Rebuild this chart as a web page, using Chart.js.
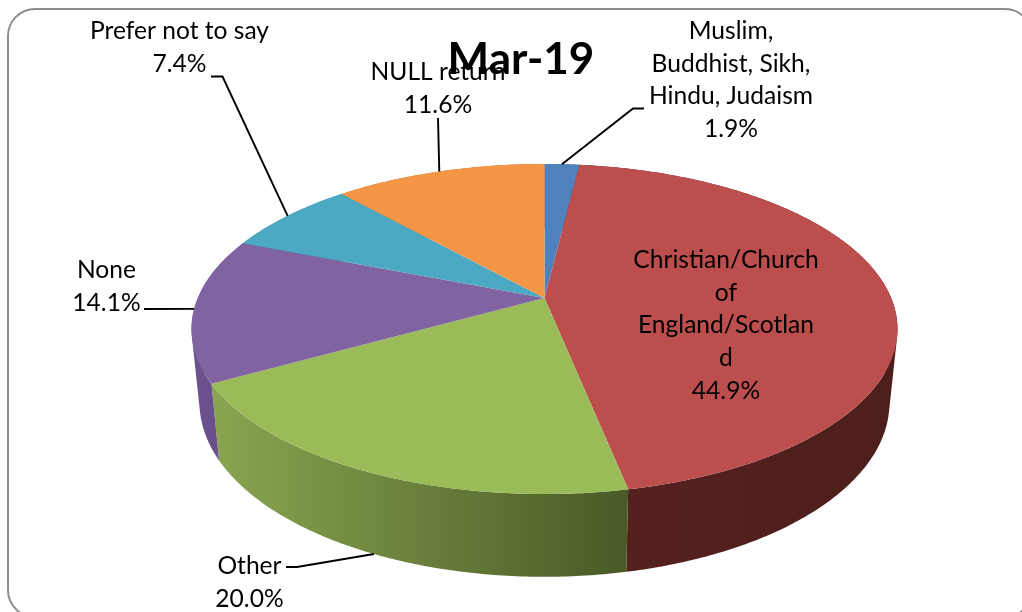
<!DOCTYPE html>
<html>
<head>
<meta charset="utf-8">
<style>
  html, body { margin: 0; padding: 0; background: #fff; }
  #wrap { width: 1022px; height: 612px; overflow: hidden; }
</style>
<script src="https://cdn.jsdelivr.net/npm/chart.js@4/dist/chart.umd.min.js"></script>
</head>
<body>
<div id="wrap"><canvas id="pie" width="1022" height="612"></canvas></div>
<script>
// Religion breakdown, March 2019
const chartTitle = 'Mar-19';
const categories = [
  'Muslim, Buddhist, Sikh, Hindu, Judaism',
  'Christian/Church of England/Scotland',
  'Other',
  'None',
  'Prefer not to say',
  'NULL return'
];
const shares = [1.9, 44.9, 20.0, 14.1, 7.4, 11.6];
const sliceColours = ['#4F81BD', '#BC4F4D', '#9BBB59', '#8064A2', '#4BA9C4', '#F49646'];

// Wrapped label text, one entry per category
const labelLines = [
  ['Muslim,', 'Buddhist, Sikh,', 'Hindu, Judaism'],
  ['Christian/Church', 'of', 'England/Scotlan', 'd'],
  ['Other'],
  ['None'],
  ['Prefer not to say'],
  ['NULL return']
];
// Label block centre x and first baseline y
const labelAnchors = [[731, 38.8], [726, 267.8], [249.5, 573.8], [106.5, 277.8], [179.5, 38.8], [438, 79.8]];
// Leader elbows: the point nearest the text; null means no leader line
const leaderElbows = [
  [[633, 108.5], [644, 108.5]],
  null,
  [[297, 567], [286, 567]],
  [[144, 309]],
  [[222.5, 76.5], [211, 76.5]],
  [[438, 118]]
];
const leaderOnWall = [false, false, true, false, false, false];

// Wall shading from left to right of each slice
const wallShades = [
  ['#3a5f8c', '#3a5f8c'],
  ['#56211f', '#4d1f1c'],
  ['#8aa550', '#495a27'],
  ['#6d5290', '#664c88'],
  ['#3a8296', '#3a8296'],
  ['#b86f33', '#b86f33']
];

// Perspective projection of a unit disc onto the page
const FOCUS = 0.188;
const topFace = { cx: 544.5, cy: 298, a: 346.7, b: 159.2 };
const baseFace = { cx: 544.5, cy: 370, a: 338.8, b: 167.9 };
const START = -Math.PI / 2;

function project(face, angle) {
  const t = angle - START;
  const u = Math.sin(t), v = -Math.cos(t);
  const w = 1 - FOCUS * v;
  return [face.cx + face.a * u / w, face.cy + face.b * v / w];
}

function frame(ctx) {
  ctx.save();
  ctx.strokeStyle = '#8e8e8e';
  ctx.lineWidth = 2;
  ctx.beginPath();
  ctx.roundRect(8, 9, 1024, 608, 27);
  ctx.stroke();
  ctx.restore();
}

function stepsFor(arc) {
  return Math.max(8, Math.ceil((arc.endAngle - arc.startAngle) * 90));
}

// Each wall is a run of quads between the top and base rims, all wound the same way
function drawWalls(ctx, arcs) {
  arcs.forEach((arc, i) => {
    const steps = stepsFor(arc);
    const span = arc.endAngle - arc.startAngle;
    let minX = Infinity, maxX = -Infinity;
    ctx.beginPath();
    for (let s = 0; s < steps; s++) {
      const a0 = arc.startAngle + span * s / steps;
      const a1 = arc.startAngle + span * (s + 1) / steps;
      let quad = [project(topFace, a0), project(topFace, a1), project(baseFace, a1), project(baseFace, a0)];
      let area = 0;
      quad.forEach((p, n) => {
        const q = quad[(n + 1) % 4];
        area += p[0] * q[1] - q[0] * p[1];
        minX = Math.min(minX, p[0]);
        maxX = Math.max(maxX, p[0]);
      });
      if (area < 0) quad = quad.reverse();
      quad.forEach((p, n) => n ? ctx.lineTo(p[0], p[1]) : ctx.moveTo(p[0], p[1]));
      ctx.closePath();
    }
    const g = ctx.createLinearGradient(minX, 0, maxX, 0);
    g.addColorStop(0, wallShades[i][0]);
    g.addColorStop(1, wallShades[i][1]);
    ctx.fillStyle = g;
    ctx.fill();
  });
}

function drawFaces(ctx, arcs) {
  arcs.forEach((arc, i) => {
    const steps = stepsFor(arc);
    ctx.beginPath();
    ctx.moveTo(topFace.cx, topFace.cy);
    for (let s = 0; s <= steps; s++) {
      const p = project(topFace, arc.startAngle + (arc.endAngle - arc.startAngle) * s / steps);
      ctx.lineTo(p[0], p[1]);
    }
    ctx.closePath();
    ctx.fillStyle = sliceColours[i];
    ctx.fill();
  });
}

function drawLabels(ctx, arcs) {
  ctx.save();
  ctx.fillStyle = '#000';
  ctx.strokeStyle = '#000';
  ctx.lineWidth = 1.9;
  ctx.textAlign = 'center';
  ctx.textBaseline = 'alphabetic';
  ctx.font = '24.6px Lato, sans-serif';
  arcs.forEach((arc, i) => {
    const lines = labelLines[i].concat(shares[i].toFixed(1) + '%');
    const [x, y] = labelAnchors[i];
    lines.forEach((t, n) => ctx.fillText(t, x, y + n * 32.7));
    if (leaderElbows[i]) {
      const mid = (arc.startAngle + arc.endAngle) / 2;
      const p = project(leaderOnWall[i] ? baseFace : topFace, mid);
      ctx.beginPath();
      ctx.moveTo(p[0], p[1]);
      leaderElbows[i].forEach(e => ctx.lineTo(e[0], e[1]));
      ctx.stroke();
    }
  });
  ctx.restore();
}

// The pie is rendered as a tilted disc from the arc angles the controller computes
const tiltedPie = {
  id: 'tiltedPie',
  beforeDatasetsDraw(chart) {
    const ctx = chart.ctx;
    const arcs = chart.getDatasetMeta(0).data;
    frame(ctx);
    drawWalls(ctx, arcs);
    drawFaces(ctx, arcs);
    return false;
  },
  afterDraw(chart) {
    const ctx = chart.ctx;
    drawLabels(ctx, chart.getDatasetMeta(0).data);
    ctx.save();
    ctx.fillStyle = '#000';
    ctx.font = 'bold 44px Lato, sans-serif';
    ctx.textAlign = 'center';
    ctx.fillText(chartTitle, 521, 73.5);
    ctx.restore();
  }
};

new Chart(document.getElementById('pie'), {
  type: 'pie',
  data: {
    labels: categories,
    datasets: [{ data: shares, backgroundColor: sliceColours, borderWidth: 0 }]
  },
  options: {
    responsive: false,
    animation: false,
    plugins: { legend: { display: false }, tooltip: { enabled: false }, title: { display: false } }
  },
  plugins: [tiltedPie]
});
</script>
</body>
</html>
